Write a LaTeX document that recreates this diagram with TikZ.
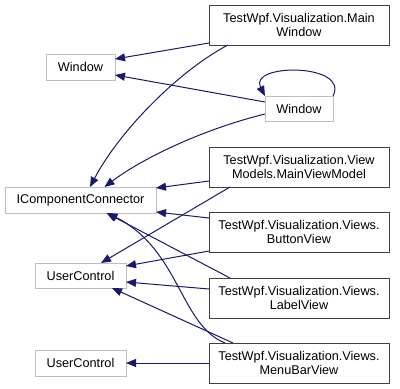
\documentclass[tikz,border=0pt]{standalone}
\usepackage{fontspec}
\setmainfont{Liberation Sans}
\usetikzlibrary{arrows.meta,calc}
\definecolor{edgeblue}{HTML}{191970}
\definecolor{extgray}{HTML}{BFBFBF}
\definecolor{clsgray}{HTML}{404040}
\begin{document}
\begin{tikzpicture}[x=1pt,y=-1pt,
  every node/.style={inner sep=0pt,outer sep=0pt,font=\fontsize{12.7}{14.5}\selectfont,align=center},
  extbox/.style={draw=extgray,line width=1pt,fill=white},
  clsbox/.style={draw=clsgray,line width=1pt,fill=white,minimum width=180pt,minimum height=40pt},
  inherit/.style={draw=edgeblue,line width=1pt,-{Triangle[length=10pt,width=8pt]}}]
\useasboundingbox[fill=white] (0,0) rectangle (400,389);

% base classes (outside the documented set)
\node[extbox,minimum width=69pt,minimum height=26pt] (winL) at (80.5,67) {Window};
\node[extbox,minimum width=68pt,minimum height=25pt] (winR) at (299,108.5) {Window};
\node[extbox,minimum width=151pt,minimum height=26pt] (icc) at (80.5,200) {IComponentConnector};
\node[extbox,minimum width=91pt,minimum height=25pt] (ucA) at (80.5,275.5) {UserControl};
\node[extbox,minimum width=91pt,minimum height=26pt] (ucB) at (80.5,363) {UserControl};

% documented classes
\node[clsbox] (mw) at (299,25) {TestWpf.Visualization.Main\\Window};
\node[clsbox] (vm) at (299,167) {TestWpf.Visualization.View\\Models.MainViewModel};
\node[clsbox] (bv) at (299,232) {TestWpf.Visualization.Views.\\ButtonView};
\node[clsbox] (lv) at (299,298) {TestWpf.Visualization.Views.\\LabelView};
\node[clsbox] (mb) at (299,363) {TestWpf.Visualization.Views.\\MenuBarView};

% inheritance edges
\draw[inherit] ($(mw.south west)+(0,-2)$) -- ($(winL.east)+(0,-8)$);
\draw[inherit] ($(mw.south west)+(19,0)$) .. controls (180,70) and (120,130) .. ($(icc.north)+(9.5,0)$);
\draw[inherit] ($(winR.west)+(0,-6.5)$) -- ($(winL.east)+(0,8)$);
\draw[inherit] (winR.north east) .. controls (350,63) and (248,63) .. (winR.north west);
\draw[inherit] ($(winR.west)+(0,5.5)$) .. controls (200,130) and (140,160) .. ($(icc.north)+(24,0)$);
\draw[inherit] ($(vm.west)+(0,14)$) -- ($(icc.east)+(0,-12)$);
\draw[inherit] ($(vm.south west)+(21,0)$) -- ($(ucA.north)+(20.5,0)$);
\draw[inherit] ($(bv.west)+(0,-14)$) -- ($(icc.east)+(0,12)$);
\draw[inherit] ($(bv.west)+(0,19)$) -- ($(ucA.east)+(0,-9.5)$);
\draw[inherit] ($(lv.north west)+(21,0)$) -- ($(icc.south)+(26,0)$);
\draw[inherit] ($(lv.west)+(0,-9)$) -- ($(ucA.east)+(0,6.5)$);
\draw[inherit] ($(mb.north west)+(16,0)$) .. controls (180,325) and (180,250) .. ($(icc.south)+(27,0)$);
\draw[inherit] ($(mb.north west)+(24,0)$) -- ($(ucA.south)+(31.5,0)$);
\draw[inherit] (mb.west) -- (ucB.east);
\end{tikzpicture}
\end{document}
